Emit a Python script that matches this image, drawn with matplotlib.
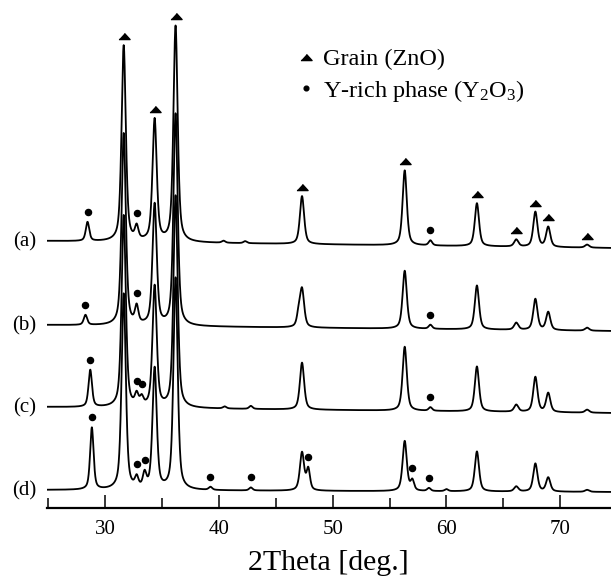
import numpy as np
import matplotlib
matplotlib.use("Agg")
import matplotlib.pyplot as plt
from matplotlib.lines import Line2D

plt.rcParams['font.family'] = ['Liberation Serif', 'DejaVu Serif']
plt.rcParams['mathtext.default'] = 'regular'

################# data #################
# intensity unit = pixel height above the x axis line
trace_labels = ['(a)', '(b)', '(c)', '(d)']
baseline_left = [267, 183, 101, 18]     # at 25 deg
baseline_right = [260, 177, 95, 16]     # at 74.5 deg

# ZnO peaks (same positions for every sample)
zno_pos = [31.62, 34.34, 36.18, 47.3, 56.33, 62.68, 66.14, 67.82, 68.95, 72.37]
zno_height = {
    '(a)': [196, 122, 216, 48, 75, 43, 7, 35, 20, 3],
    '(b)': [192, 121, 212, 38, 58, 44, 7, 31, 18, 3],
    '(c)': [192, 121, 212, 47, 64, 45, 7, 35, 19, 3],
    '(d)': [196, 121, 212, 38, 50, 40, 5, 28, 14, 2],
}
# Y2O3 / minor peaks per sample
y_pos = {
    '(a)': [28.44, 32.76, 58.59, 40.4, 42.3],
    '(b)': [28.26, 32.76, 58.59, 47.0],
    '(c)': [28.68, 32.76, 33.2, 58.59, 40.5, 42.8],
    '(d)': [28.82, 32.76, 33.46, 39.25, 42.8, 47.85, 57.0, 58.46, 60.0],
}
y_height = {
    '(a)': [19, 13, 5, 2, 2],
    '(b)': [10, 17, 4, 11],
    '(c)': [37, 11, 8, 3.5, 2, 3],
    '(d)': [62, 10, 14, 3, 3, 21, 10, 3, 2],
}
# where the symbols are put
tri_marks = {'(a)': zno_pos}
dot_marks = {
    '(a)': [28.44, 32.76, 58.59],
    '(b)': [28.26, 32.76, 58.59],
    '(c)': [28.68, 32.76, 33.2, 58.59],
    '(d)': [28.82, 32.76, 33.46, 39.25, 42.8, 47.85, 57.0, 58.46],
}
x_ticks = [30, 40, 50, 60, 70]
################# data #################

ZNO_FWHM = 0.44
Y_FWHM = 0.36
X_MIN, X_MAX = 24.85, 74.47


def pv(x, pos, h, fwhm, eta=0.55):
    # pseudo voigt peak shape
    g = np.exp(-4 * np.log(2) * ((x - pos) / fwhm) ** 2)
    l = 1 / (1 + 4 * ((x - pos) / fwhm) ** 2)
    return h * (eta * l + (1 - eta) * g)


x = np.linspace(X_MIN, X_MAX + 0.2, 4000)
tri = [(-1, -0.55), (1, -0.55), (0, 0.55)]

fig = plt.figure(figsize=(6.11, 5.76), dpi=100)
ax = fig.add_axes([46.7 / 611, 68 / 576, 1 - 46.7 / 611, 508 / 576])

for i, lab in enumerate(trace_labels):
    b0, b1 = baseline_left[i], baseline_right[i]
    y = b0 + (b1 - b0) * (x - X_MIN) / (X_MAX - X_MIN)
    for p, h in zip(zno_pos, zno_height[lab]):
        y = y + pv(x, p, h, ZNO_FWHM)
    for p, h in zip(y_pos[lab], y_height[lab]):
        y = y + pv(x, p, h, Y_FWHM)
    ax.plot(x, y, color='black', lw=1.3, zorder=2)

    def top_at(p):
        m = np.abs(x - p) < 0.12
        return y[m].max()

    for p in tri_marks.get(lab, []):
        ax.plot(p, top_at(p) + 9, marker=tri, ms=8, color='black', ls='none', clip_on=False)
    for p in dot_marks[lab]:
        ax.plot(p, top_at(p) + 10, marker='o', ms=4.4, color='black', ls='none', clip_on=False)

    ax.text(X_MIN - 0.95, b0 - 1, lab, ha='right', va='center', fontsize=15, clip_on=False)

handles = [Line2D([], [], marker=tri, ms=8, color='black', ls='none'),
           Line2D([], [], marker='o', ms=3.4, color='black', ls='none')]
ax.legend(handles, ['Grain (ZnO)', 'Y-rich phase (Y$_2$O$_3$)'],
          loc='upper left', bbox_to_anchor=(0.449, 0.905), frameon=False,
          fontsize=17.5, handlelength=0.5, handletextpad=0.45, labelspacing=0.3,
          borderpad=0, borderaxespad=0)

ax.set_xlim(X_MIN, X_MAX)
ax.set_ylim(0, 508)
ax.set_xticks(x_ticks)
ax.set_xticks(np.arange(25, 75, 5), minor=True)
ax.tick_params(axis='x', which='major', direction='in', length=9.5, width=1.1, labelsize=15, pad=8.5)
ax.tick_params(axis='x', which='minor', direction='in', length=7, width=1.1)
ax.set_yticks([])
for s in ['left', 'right', 'top']:
    ax.spines[s].set_visible(False)
ax.spines['bottom'].set_linewidth(1.6)
ax.set_xlabel('2Theta [deg.]', fontsize=21.5, labelpad=8)

fig.savefig('out.png', dpi=100)
